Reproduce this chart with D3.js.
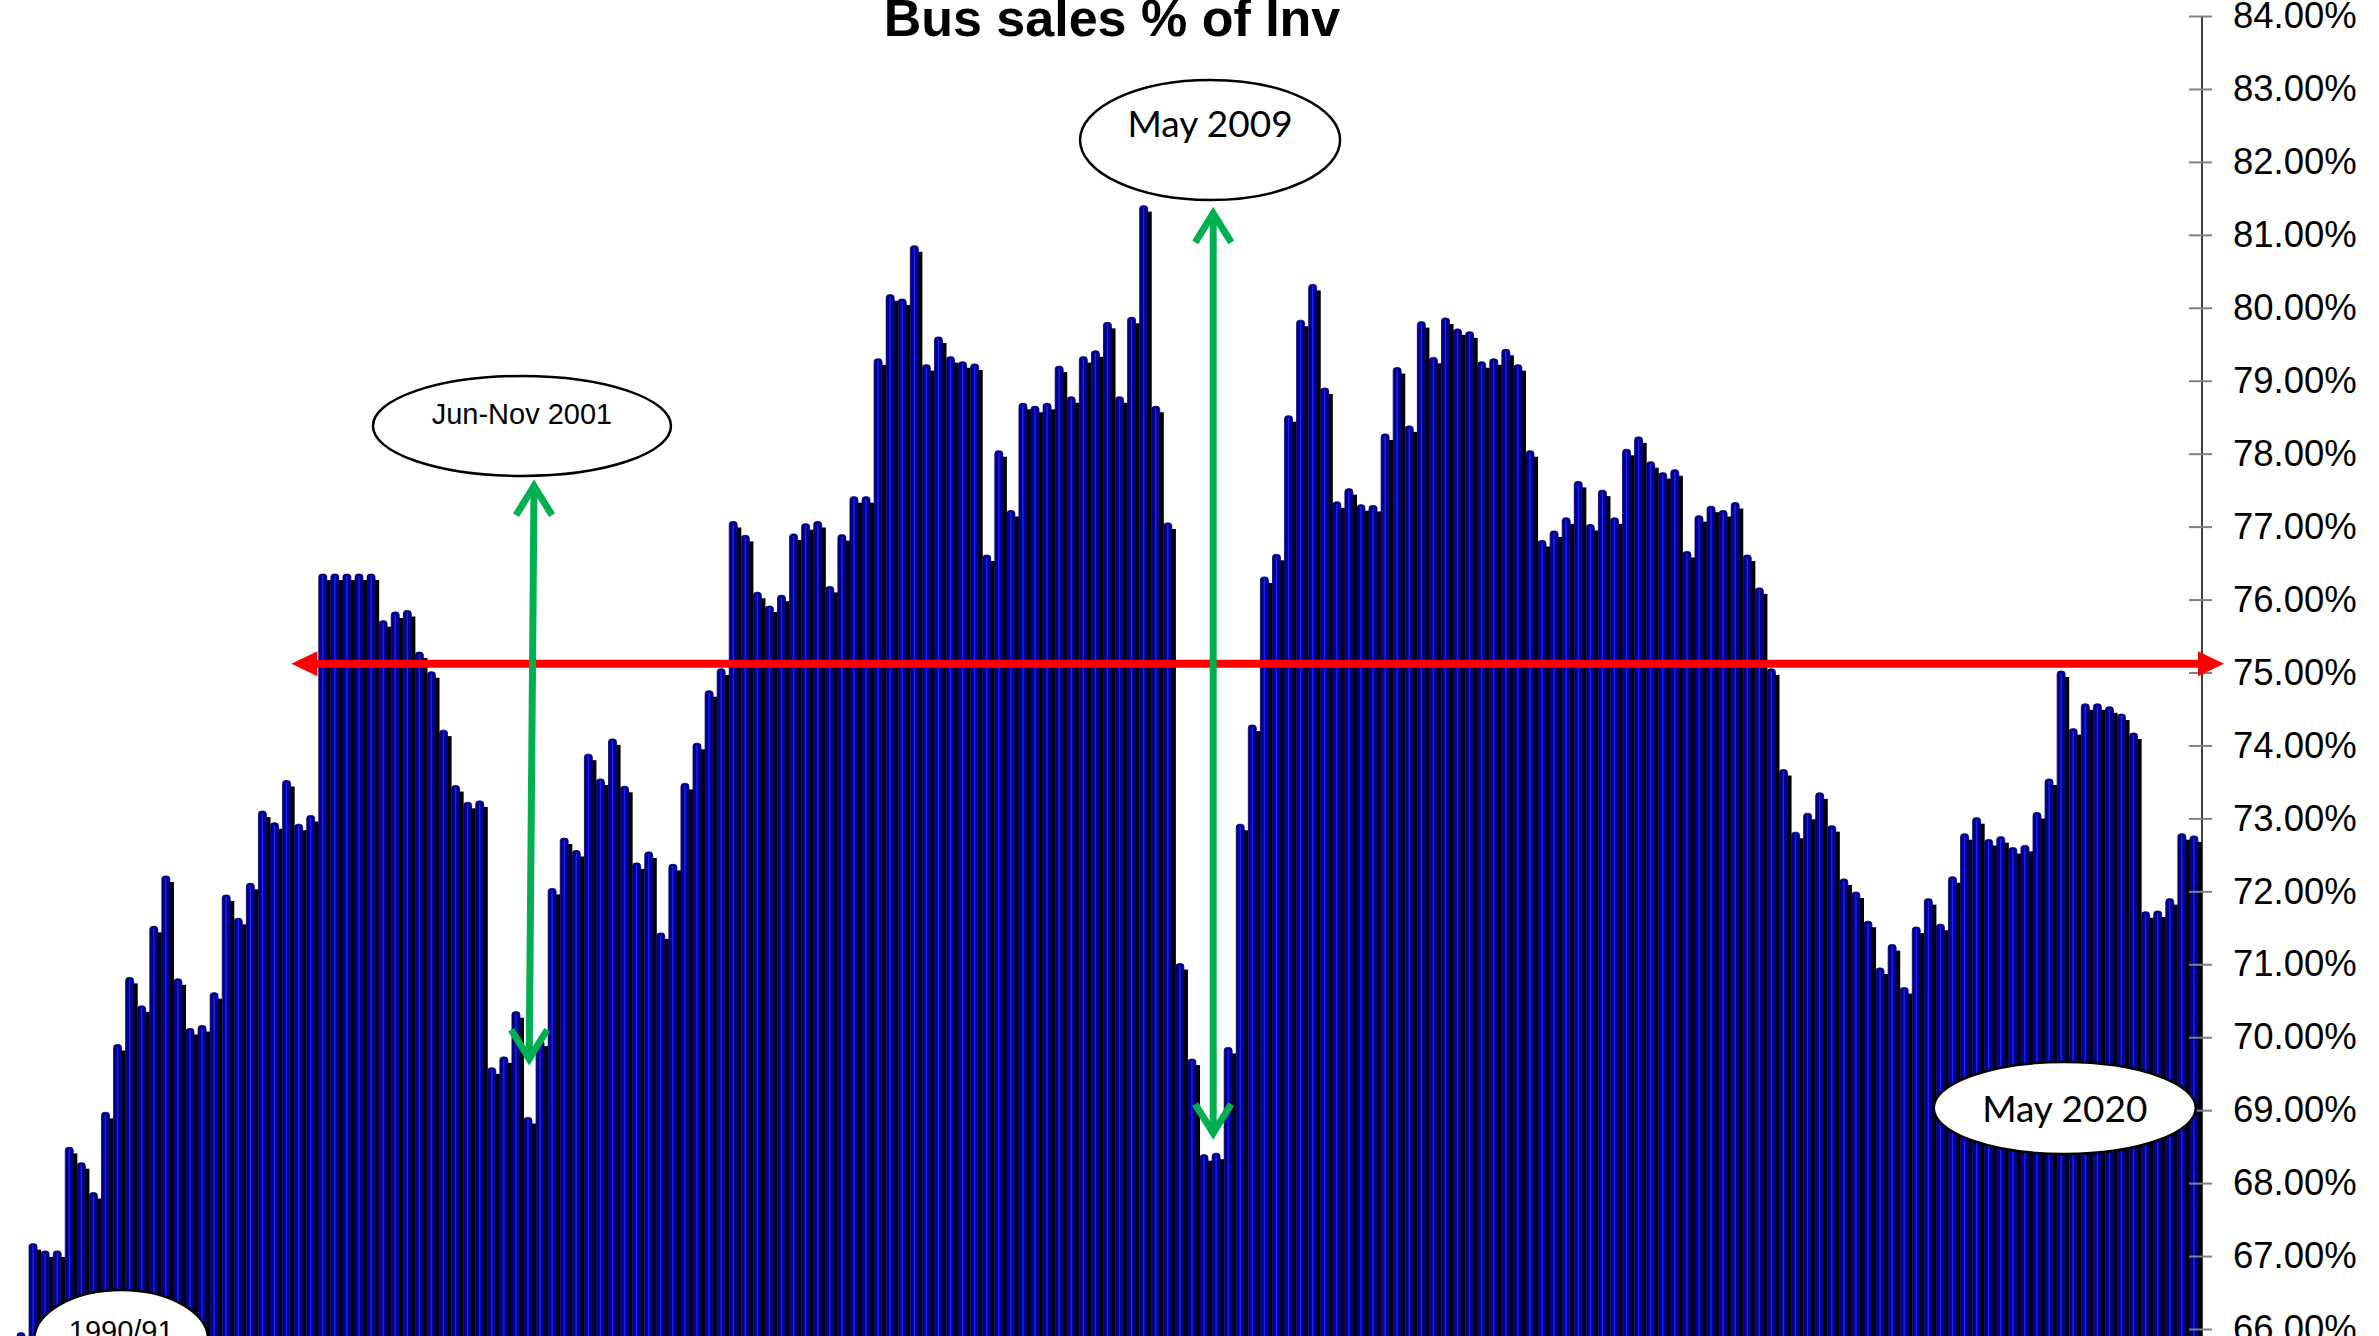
<!DOCTYPE html>
<html>
<head>
<meta charset="utf-8">
<script src="https://cdn.jsdelivr.net/npm/d3@7"></script>
<style>
  body { margin: 0; background: #fff; }
  svg { display: block; }
</style>
</head>
<body>
<div id="chart"></div>
<script>
// Bus sales % of Inv - one bar per period

var values = [
  65.95, 67.17, 67.07, 67.07, 68.49, 68.28, 67.87, 68.97, 69.90, 70.82,
  70.43, 71.52, 72.21, 70.80, 70.12, 70.16, 70.61, 71.95, 71.63, 72.11,
  73.10, 72.94, 73.52, 72.92, 73.04, 76.35, 76.35, 76.35, 76.35, 76.35,
  75.71, 75.83, 75.85, 75.28, 75.01, 74.21, 73.45, 73.22, 73.24, 69.58,
  69.73, 70.35, 68.90, 69.96, 72.04, 72.73, 72.56, 73.88, 73.54, 74.09,
  73.44, 72.39, 72.54, 71.43, 72.37, 73.48, 74.03, 74.75, 75.05, 77.07,
  76.88, 76.10, 75.91, 76.06, 76.90, 77.04, 77.07, 76.18, 76.89, 77.41,
  77.41, 79.30, 80.18, 80.12, 80.85, 79.22, 79.60, 79.33, 79.26, 79.23,
  76.61, 78.04, 77.22, 78.69, 78.65, 78.69, 79.20, 78.78, 79.33, 79.41,
  79.80, 78.78, 79.87, 81.40, 78.65, 77.05, 71.01, 69.70, 68.39, 68.41,
  69.86, 72.92, 74.28, 76.31, 76.62, 78.52, 79.83, 80.32, 78.90, 77.34,
  77.52, 77.30, 77.29, 78.27, 79.18, 78.38, 79.81, 79.32, 79.86, 79.71,
  79.67, 79.26, 79.30, 79.43, 79.22, 78.04, 76.81, 76.94, 77.12, 77.62,
  77.03, 77.50, 77.12, 78.06, 78.23, 77.89, 77.74, 77.78, 76.66, 77.15,
  77.28, 77.22, 77.33, 76.61, 76.16, 75.05, 73.67, 72.81, 73.07, 73.35,
  72.90, 72.17, 71.99, 71.59, 70.95, 71.27, 70.68, 71.51, 71.90, 71.55,
  72.20, 72.79, 73.01, 72.71, 72.75, 72.60, 72.63, 73.08, 73.54, 75.02,
  74.23, 74.57, 74.57, 74.53, 74.43, 74.17, 71.72, 71.73, 71.90, 72.79,
  72.76
];

var categories = d3.range(values.length);

var tickValues = [66, 67, 68, 69, 70, 71, 72, 73, 74, 75, 76, 77, 78, 79, 80, 81, 82, 83, 84];

// reference level (red arrow) and annotations
var refLevel = 75.12;
var callouts = [
  { label: "1990/91", at: 8.3, level: 65.85, rx: 87, ry: 50, font: "Liberation Sans, Arial", size: 29, dy: -9 },
  { label: "Jun-Nov 2001", at: 41.5, level: 78.38, rx: 149, ry: 50, font: "Liberation Sans, Arial", size: 29, dy: -12 },
  { label: "May 2009", at: 98.5, level: 82.3, rx: 130, ry: 60, font: "Lato, Carlito, sans-serif", size: 37, dy: -18 },
  { label: "May 2020", at: 169.3, level: 69.03, rx: 131, ry: 46, font: "Lato, Carlito, sans-serif", size: 37, dy: 0 }
];
var greenArrows = [
  { fromAt: 42.5, toAt: 42.1, fromLevel: 77.61, toLevel: 69.65 },
  { fromAt: 98.76, toAt: 98.76, fromLevel: 81.35, toLevel: 68.63 }
];

var svgWidth = 2379;
var svgHeight = 1336;

var svg = d3.select("#chart")
  .append("svg")
  .attr("width", svgWidth)
  .attr("height", svgHeight)
  .style("font-family", "Liberation Sans, Arial, sans-serif");

svg.append("rect").attr("width", svgWidth).attr("height", svgHeight).attr("fill", "#fff");

// scales
var xScale = d3.scaleBand()
  .domain(categories)
  .range([17, 2202])
  .paddingInner(0)
  .paddingOuter(0);

var yScale = d3.scaleLinear()
  .domain([66, 84])
  .range([1329, 16]);

var bw = xScale.bandwidth();
var blueW = bw * 0.66;

// x position for a fractional bar index
function xAt(i) {
  return xScale(0) + bw * i + blueW / 2;
}

// bars
var bars = svg.append("g").selectAll("g")
  .data(values)
  .enter()
  .append("g")
  .attr("transform", (d, i) => `translate(${xScale(i)},0)`);

// black shadow on the right
bars.append("rect")
  .attr("x", blueW - 1)
  .attr("y", d => yScale(d) + 6)
  .attr("width", bw - blueW + 1)
  .attr("height", d => svgHeight - yScale(d))
  .attr("fill", "#000");

// blue body with rounded top
bars.append("path")
  .attr("d", function(d) {
    var t = yScale(d), r = 3;
    return `M0,${svgHeight + 2} L0,${t + r} Q0,${t} ${r},${t} L${blueW - r},${t} Q${blueW},${t} ${blueW},${t + r} L${blueW},${svgHeight + 2} Z`;
  })
  .attr("fill", "#000088")
  .attr("stroke", "#00006a")
  .attr("stroke-width", 0.8);

// highlight stripe
bars.append("line")
  .attr("x1", blueW / 2).attr("x2", blueW / 2)
  .attr("y1", d => yScale(d) + 2)
  .attr("y2", svgHeight)
  .attr("stroke", "#1f1fff")
  .attr("stroke-width", 1.4);

// y axis on the right
var axis = svg.append("g")
  .attr("transform", `translate(${xScale.range()[1]},0)`)
  .call(d3.axisRight(yScale)
    .tickValues(tickValues)
    .tickSize(0)
    .tickPadding(31)
    .tickFormat(d => d3.format(".2f")(d) + "%"));

axis.select(".domain")
  .attr("stroke", "#000")
  .attr("stroke-width", 1.5)
  .attr("d", `M0,${yScale(84)}V${svgHeight}`);

axis.selectAll(".tick line")
  .attr("x1", -13).attr("x2", 10)
  .attr("stroke", "#808080")
  .attr("stroke-width", 2);

axis.selectAll(".tick text")
  .attr("font-size", 36.5)
  .attr("font-family", "Liberation Sans, Arial, sans-serif")
  .attr("fill", "#000");

// red double arrow at the reference level
var ry = yScale(refLevel);
var redLeft = xAt(22.4), redRight = xScale.range()[1] + 22;
svg.append("line")
  .attr("x1", redLeft + 20).attr("x2", redRight - 22)
  .attr("y1", ry).attr("y2", ry)
  .attr("stroke", "#ff0000")
  .attr("stroke-width", 8);
svg.append("path")
  .attr("d", `M${redLeft},${ry} L${redLeft + 26},${ry - 12.5} L${redLeft + 26},${ry + 12.5} Z`)
  .attr("fill", "#ff0000");
svg.append("path")
  .attr("d", `M${redRight},${ry} L${redRight - 26},${ry - 12.5} L${redRight - 26},${ry + 12.5} Z`)
  .attr("fill", "#ff0000");

// green double arrows
greenArrows.forEach(function(a) {
  var x1 = xAt(a.fromAt), y1 = yScale(a.fromLevel);
  var x2 = xAt(a.toAt), y2 = yScale(a.toLevel);
  var g = svg.append("g")
    .attr("stroke", "#00b050")
    .attr("stroke-width", 7)
    .attr("fill", "none")
    .attr("stroke-linecap", "butt");
  g.append("line").attr("x1", x1).attr("y1", y1 + 4).attr("x2", x2).attr("y2", y2 - 4);
  g.append("path").attr("d", `M${x1 - 18},${y1 + 33} L${x1},${y1 + 4} L${x1 + 18},${y1 + 33}`);
  g.append("path").attr("d", `M${x2 - 18},${y2 - 33} L${x2},${y2 - 4} L${x2 + 18},${y2 - 33}`);
});

// callout ellipses
callouts.forEach(function(c) {
  var cx = xAt(c.at), cy = yScale(c.level);
  svg.append("ellipse")
    .attr("cx", cx).attr("cy", cy)
    .attr("rx", c.rx).attr("ry", c.ry)
    .attr("fill", "#fff")
    .attr("stroke", "#000")
    .attr("stroke-width", 2.5);
  svg.append("text")
    .attr("x", cx).attr("y", cy + c.dy)
    .attr("text-anchor", "middle")
    .attr("dominant-baseline", "central")
    .attr("font-family", c.font)
    .attr("font-size", c.size)
    .attr("fill", "#000")
    .text(c.label);
});

// title
svg.append("text")
  .attr("x", 1112)
  .attr("y", 36)
  .attr("text-anchor", "middle")
  .attr("font-weight", "bold")
  .attr("font-size", 52)
  .attr("fill", "#000")
  .text("Bus sales % of Inv");
</script>
</body>
</html>
